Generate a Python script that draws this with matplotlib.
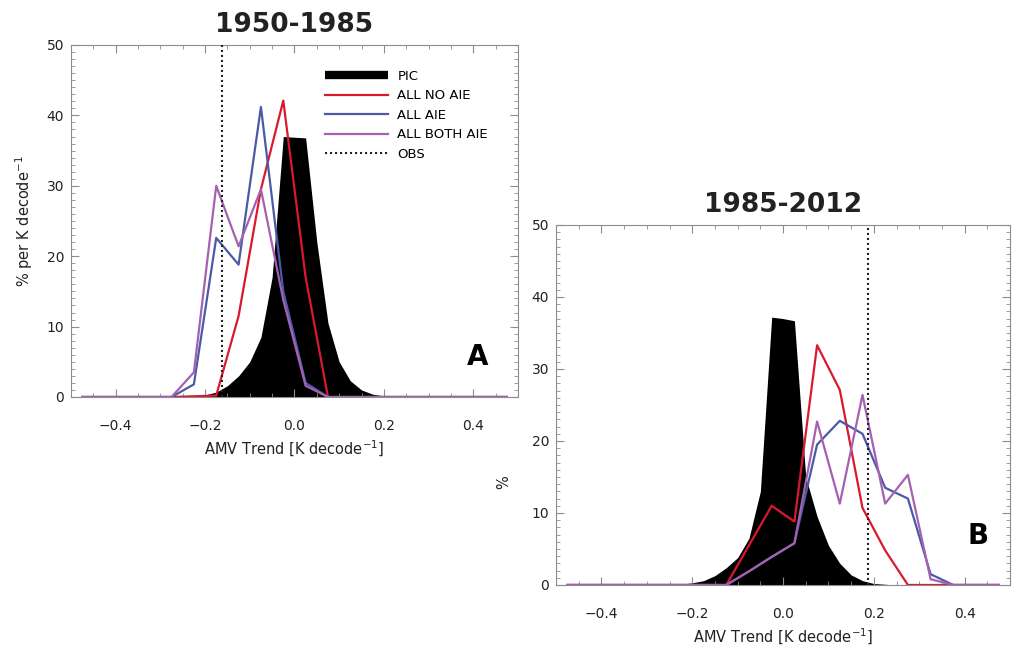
import numpy as np
import matplotlib
matplotlib.use("Agg")
import matplotlib.pyplot as plt
from matplotlib.lines import Line2D
from matplotlib.ticker import MultipleLocator

# bin centres of the model histograms (K per decade)
bins = [-0.475, -0.425, -0.375, -0.325, -0.275, -0.225, -0.175, -0.125, -0.075, -0.025,
        0.025, 0.075, 0.125, 0.175, 0.225, 0.275, 0.325, 0.375, 0.425, 0.475]

# panel A: 1950-1985
red_a = [0, 0, 0, 0, 0, 0.1, 0.2, 11.5, 29.5, 42.1, 17.0, 0, 0, 0, 0, 0, 0, 0, 0, 0]
blue_a = [0, 0, 0, 0, 0, 1.8, 22.6, 18.8, 41.2, 15.0, 2.0, 0, 0, 0, 0, 0, 0, 0, 0, 0]
purple_a = [0, 0, 0, 0, 0, 3.5, 30.0, 21.4, 29.5, 13.8, 1.6, 0, 0, 0, 0, 0, 0, 0, 0, 0]

# panel B: 1985-2012
red_b = [0, 0, 0, 0, 0, 0, 0, 0, 5.5, 11.0, 8.8, 33.3, 27.1, 10.7, 4.8, 0, 0, 0, 0, 0]
blue_b = [0, 0, 0, 0, 0, 0, 0, 0, 1.9, 3.9, 5.8, 19.5, 22.8, 21.0, 13.5, 12.0, 1.5, 0, 0, 0]
purple_b = [0, 0, 0, 0, 0, 0, 0, 0, 1.9, 3.9, 5.8, 22.7, 11.3, 26.4, 11.3, 15.3, 0.8, 0, 0, 0]

# pre-industrial control distribution (finer grid)
pic_x = [-0.25, -0.225, -0.2, -0.175, -0.15, -0.125, -0.1, -0.075, -0.05, -0.025, 0.0,
         0.025, 0.05, 0.075, 0.1, 0.125, 0.15, 0.175, 0.2, 0.225, 0.25]
pic_a = [0, 0.1, 0.3, 0.7, 1.6, 3.0, 5.0, 8.5, 17.0, 37.0, 36.9,
         36.8, 22.0, 10.5, 5.0, 2.3, 1.0, 0.4, 0.15, 0.05, 0]
pic_b = [0, 0.1, 0.3, 0.6, 1.3, 2.4, 3.8, 6.5, 13.0, 37.2, 37.0,
         36.7, 15.0, 9.5, 5.5, 3.0, 1.4, 0.6, 0.2, 0.1, 0]

# observed trends
obs_a = -0.163
obs_b = 0.187

red = "#d8192e"
blue = "#4b5aa6"
purple = "#a560b2"
spine_col = "#8c8c8c"

fig = plt.figure(figsize=(10.18, 6.55), dpi=100)
ax_a = fig.add_axes([0.0697, 0.3939, 0.4391, 0.5374])
ax_b = fig.add_axes([0.5462, 0.1069, 0.4460, 0.5496])


def draw_panel(ax, pic, red_y, blue_y, purple_y, obs, title, letter, lx, ly):
    ax.fill_between(pic_x, 0, pic, color="black", lw=0, zorder=1)
    ax.plot(bins, red_y, color=red, lw=1.6, zorder=2)
    ax.plot(bins, blue_y, color=blue, lw=1.6, zorder=3)
    ax.plot(bins, purple_y, color=purple, lw=1.6, zorder=4)
    ax.axvline(obs, color="#222222", lw=1.5, ls=(0, (1, 1.4)), zorder=5)

    ax.set_xlim(-0.5, 0.5)
    ax.set_ylim(0, 50)
    ax.xaxis.set_major_locator(MultipleLocator(0.2))
    ax.xaxis.set_minor_locator(MultipleLocator(0.05))
    ax.yaxis.set_major_locator(MultipleLocator(10))
    ax.yaxis.set_minor_locator(MultipleLocator(1))
    ax.tick_params(which="both", direction="in", top=True, right=True, color=spine_col)
    ax.tick_params(which="major", length=6, width=0.8)
    ax.tick_params(which="minor", length=3, width=0.6)
    ax.tick_params(axis="x", pad=16, labelsize=10, labelcolor="#222222")
    ax.tick_params(axis="y", pad=5, labelsize=10, labelcolor="#222222")
    ax.set_xticks([-0.4, -0.2, 0.0, 0.2, 0.4])
    ax.set_xticklabels(["\u22120.4", "\u22120.2", "0.0", "0.2", "0.4"])
    for s in ax.spines.values():
        s.set_color(spine_col)
        s.set_linewidth(0.8)

    ax.set_xlabel(r"AMV Trend [K decode$^{-1}$]", fontsize=10.5, color="#222222", labelpad=4)
    ax.set_title(title, fontsize=19, fontweight="bold", color="#222222", pad=9)
    ax.text(lx, ly, letter, transform=ax.transAxes, fontsize=20, fontweight="bold",
            ha="center", va="center", color="black")


draw_panel(ax_a, pic_a, red_a, blue_a, purple_a, obs_a, "1950-1985", "A", 0.91, 0.114)
draw_panel(ax_b, pic_b, red_b, blue_b, purple_b, obs_b, "1985-2012", "B", 0.93, 0.136)

ax_a.set_ylabel(r"% per K decode$^{-1}$", fontsize=10.5, color="#222222", labelpad=8)
ax_b.text(-0.115, 0.286, "%", transform=ax_b.transAxes, rotation=90, fontsize=10.5,
          ha="center", va="center", color="#222222")

handles = [
    Line2D([], [], color="black", lw=6, solid_capstyle="butt"),
    Line2D([], [], color=red, lw=1.6),
    Line2D([], [], color=blue, lw=1.6),
    Line2D([], [], color=purple, lw=1.6),
    Line2D([], [], color="#222222", lw=1.5, ls=(0, (1, 1.4))),
]
labels = ["PIC", "ALL NO AIE", "ALL AIE", "ALL BOTH AIE", "OBS"]
ax_a.legend(handles, labels, loc="upper left", bbox_to_anchor=(0.568, 0.93),
            frameon=False, fontsize=9.5, handlelength=4.8, handletextpad=0.7,
            labelspacing=0.5, borderpad=0, borderaxespad=0)

fig.savefig("out.png", dpi=100)
